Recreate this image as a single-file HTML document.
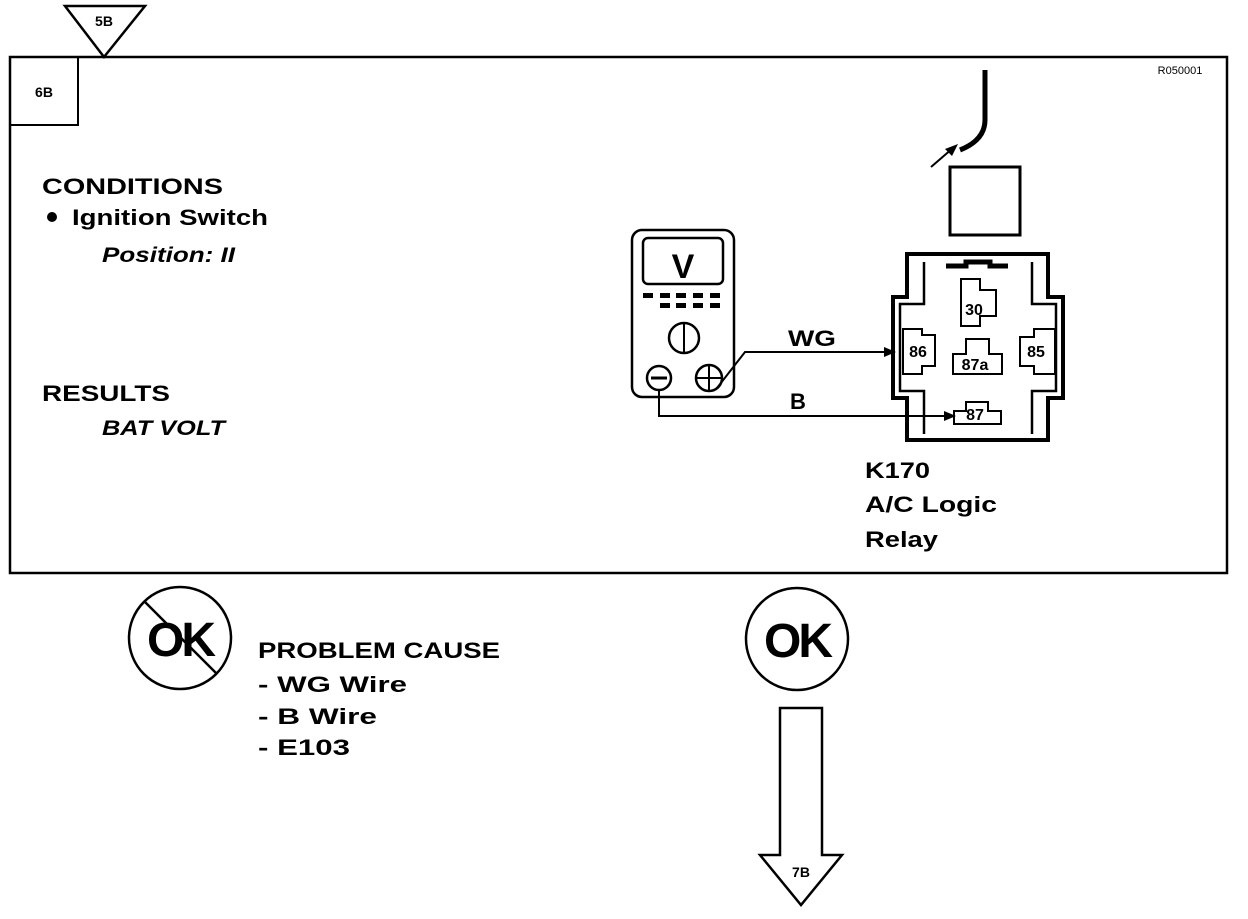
<!DOCTYPE html>
<html><head><style>
body{margin:0;background:#fff}
svg text{font-family:"Liberation Sans",Arial,sans-serif;font-weight:bold;fill:#000}
</style></head><body>
<svg width="1248" height="914" viewBox="0 0 1248 914" xmlns="http://www.w3.org/2000/svg">
<rect x="10" y="57" width="1217" height="516" fill="none" stroke="#000" stroke-width="2.5"/>
<rect x="10" y="57" width="68" height="68" fill="none" stroke="#000" stroke-width="2"/>
<text x="44" y="97" font-size="14" text-anchor="middle">6B</text>
<polygon points="65,6 145,6 104,57" fill="#fff" stroke="#000" stroke-width="2.5"/>
<text x="104" y="26" font-size="14" text-anchor="middle">5B</text>
<text x="1180" y="74" font-size="11" style="font-weight:normal" text-anchor="middle">R050001</text>

<text x="42" y="194" font-size="22" textLength="181" lengthAdjust="spacingAndGlyphs">CONDITIONS</text>
<circle cx="52" cy="217" r="5" fill="#000"/>
<text x="72" y="225" font-size="22" textLength="196" lengthAdjust="spacingAndGlyphs">Ignition Switch</text>
<text x="102" y="262" font-size="21" font-style="italic" textLength="133" lengthAdjust="spacingAndGlyphs">Position: II</text>
<text x="42" y="401" font-size="22" textLength="128" lengthAdjust="spacingAndGlyphs">RESULTS</text>
<text x="102" y="435" font-size="21" font-style="italic" textLength="123" lengthAdjust="spacingAndGlyphs">BAT VOLT</text>

<rect x="632" y="230" width="102" height="167" rx="10" fill="none" stroke="#000" stroke-width="2.5"/>
<rect x="643" y="238" width="80" height="46" rx="5" fill="none" stroke="#000" stroke-width="2.5"/>
<text x="683" y="278" font-size="34" text-anchor="middle">V</text>
<g fill="#000">
<rect x="643" y="293" width="10" height="5"/><rect x="660" y="293" width="10" height="5"/><rect x="676" y="293" width="10" height="5"/><rect x="693" y="293" width="10" height="5"/><rect x="710" y="293" width="10" height="5"/>
<rect x="660" y="303" width="10" height="5"/><rect x="676" y="303" width="10" height="5"/><rect x="693" y="303" width="10" height="5"/><rect x="710" y="303" width="10" height="5"/>
</g>
<circle cx="684" cy="338" r="15" fill="none" stroke="#000" stroke-width="2.5"/>
<line x1="684" y1="323" x2="684" y2="353" stroke="#000" stroke-width="2"/>
<circle cx="659" cy="378" r="12" fill="none" stroke="#000" stroke-width="2.5"/>
<line x1="651" y1="378" x2="667" y2="378" stroke="#000" stroke-width="3"/>
<circle cx="709" cy="378" r="13" fill="none" stroke="#000" stroke-width="2.5"/>
<line x1="697" y1="378" x2="721" y2="378" stroke="#000" stroke-width="2"/>
<line x1="709" y1="366" x2="709" y2="390" stroke="#000" stroke-width="2"/>

<polyline points="717,388 745,352 888,352" fill="none" stroke="#000" stroke-width="2"/>
<polygon points="896,352 884,347 884,357" fill="#000"/>
<text x="788" y="346" font-size="22" textLength="48" lengthAdjust="spacingAndGlyphs">WG</text>
<polyline points="659,390 659,416 948,416" fill="none" stroke="#000" stroke-width="2"/>
<polygon points="956,416 944,411 944,421" fill="#000"/>
<text x="798" y="409" font-size="22" text-anchor="middle">B</text>

<path d="M907,254 H1048 V297 H1063 V398 H1048 V440 H907 V398 H893 V297 H907 Z" fill="none" stroke="#000" stroke-width="4"/>
<path d="M924,262 V304 H900 V391 H924 V434 M1032,262 V304 H1056 V391 H1032 V434" fill="none" stroke="#000" stroke-width="2.5"/>
<path d="M946,266 H966 V262 H990 V266 H1008" fill="none" stroke="#000" stroke-width="5"/>
<path d="M961,279 H980 V290 H996 V316 H980 V326 H961 Z" fill="none" stroke="#000" stroke-width="2"/>
<text x="974" y="315" font-size="16" text-anchor="middle">30</text>
<path d="M903,329 H922 V335 H935 V366 H922 V374 H903 Z" fill="none" stroke="#000" stroke-width="2"/>
<text x="918" y="357" font-size="16" text-anchor="middle">86</text>
<path d="M1034,329 H1055 V374 H1034 V366 H1020 V337 H1034 Z" fill="none" stroke="#000" stroke-width="2"/>
<text x="1036" y="357" font-size="16" text-anchor="middle">85</text>
<path d="M966,339 H989 V354 H1002 V374 H953 V354 H966 Z" fill="none" stroke="#000" stroke-width="2"/>
<text x="975" y="370" font-size="16" text-anchor="middle">87a</text>
<path d="M966,402 H988 V411 H1001 V424 H954 V411 H966 Z" fill="none" stroke="#000" stroke-width="2"/>
<text x="975" y="420" font-size="16" text-anchor="middle">87</text>

<rect x="950" y="167" width="70" height="68" fill="none" stroke="#000" stroke-width="3"/>
<path d="M985,70 V120 Q985,140 960,150" fill="none" stroke="#000" stroke-width="5"/>
<line x1="931" y1="167" x2="953" y2="148" stroke="#000" stroke-width="2"/>
<polygon points="958,144 945,149 952,156" fill="#000"/>

<text x="865" y="478" font-size="22" textLength="65" lengthAdjust="spacingAndGlyphs">K170</text>
<text x="865" y="512" font-size="22" textLength="132" lengthAdjust="spacingAndGlyphs">A/C Logic</text>
<text x="865" y="547" font-size="22" textLength="73" lengthAdjust="spacingAndGlyphs">Relay</text>

<circle cx="180" cy="638" r="51" fill="none" stroke="#000" stroke-width="2.5"/>
<text x="180" y="656" font-size="48" text-anchor="middle" letter-spacing="-3">OK</text>
<line x1="145" y1="602" x2="217" y2="674" stroke="#000" stroke-width="2.5"/>
<text x="258" y="658" font-size="22" textLength="242" lengthAdjust="spacingAndGlyphs">PROBLEM CAUSE</text>
<text x="258" y="692" font-size="22" textLength="149" lengthAdjust="spacingAndGlyphs">-  WG  Wire</text>
<text x="258" y="724" font-size="22" textLength="119" lengthAdjust="spacingAndGlyphs">-  B  Wire</text>
<text x="258" y="755" font-size="22" textLength="92" lengthAdjust="spacingAndGlyphs">-  E103</text>

<circle cx="797" cy="639" r="51" fill="none" stroke="#000" stroke-width="2.5"/>
<text x="797" y="657" font-size="48" text-anchor="middle" letter-spacing="-3">OK</text>
<path d="M780,708 H822 V855 H842 L801,905 L760,855 H780 Z" fill="none" stroke="#000" stroke-width="2.5"/>
<text x="801" y="877" font-size="14" text-anchor="middle">7B</text>
</svg>
</body></html>
